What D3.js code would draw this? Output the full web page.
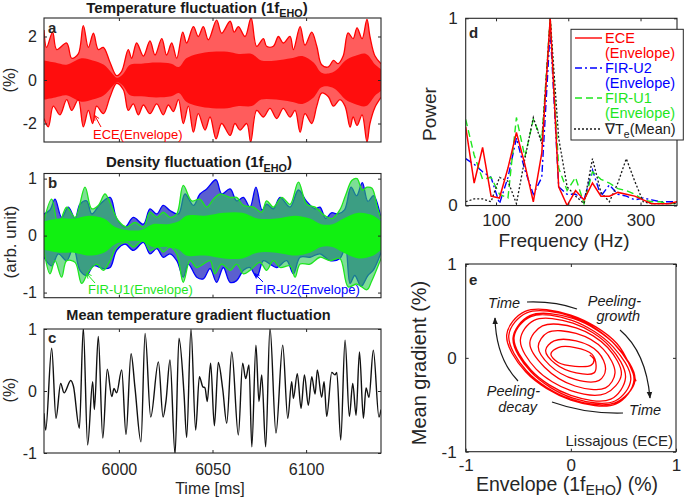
<!DOCTYPE html>
<html><head><meta charset="utf-8">
<script src="https://cdn.jsdelivr.net/npm/d3@7"></script>
<style>
body{margin:0;background:#fff}
svg{display:block}
text{font-family:"Liberation Sans",Arial,Helvetica,sans-serif;fill:#262626}
</style></head><body>
<svg id="c" width="685" height="499"></svg>
<script>
// ---------------- DATA ----------------
// Panel a: ECE envelope (upper / lower outline and dense core half-width), [time ms, %]
const aUpper = [[5960.0,2.3],[5961.4,1.5],[5964.6,2.2],[5966.8,1.4],[5972.1,1.7],[5974.8,1.0],[5978.3,1.2],[5981.0,2.5],[5983.7,1.5],[5986.4,2.15],[5989.0,1.4],[5991.7,1.5],[5995.3,0.8],[5998.8,0.2],[6001.5,0.4],[6005.0,1.4],[6006.8,1.0],[6009.5,1.7],[6013.1,1.1],[6016.6,1.8],[6019.3,1.15],[6022.9,1.9],[6025.5,1.15],[6028.2,1.7],[6030.9,1.0],[6034.1,2.2],[6036.2,1.7],[6039.8,2.45],[6042.4,2.0],[6045.1,2.45],[6047.8,1.85],[6052.2,2.75],[6054.9,2.15],[6059.4,2.7],[6061.6,2.2],[6063.8,2.45],[6067.4,2.0],[6070.6,2.85],[6073.6,1.55],[6077.2,1.9],[6078.9,1.55],[6082.5,1.55],[6085.2,2.0],[6087.8,1.7],[6091.4,2.0],[6093.2,1.4],[6096.8,2.45],[6099.4,1.6],[6103.0,2.2],[6105.7,1.55],[6108.3,0.7],[6111.9,0.6],[6114.6,0.9],[6117.1,0.75],[6119.8,1.1],[6122.4,2.17],[6125.1,1.9],[6127.2,2.4],[6129.9,1.9],[6132.5,2.78],[6134.1,2.0],[6136.8,1.1],[6140.0,0.75]];
const aLower = [[5960.0,-1.77],[5962.3,-2.15],[5965.0,-1.2],[5968.5,-1.6],[5972.1,-0.9],[5974.8,-1.4],[5978.3,-0.9],[5981.0,-2.15],[5983.7,-1.4],[5986.0,-2.0],[5988.1,-1.2],[5991.7,-1.55],[5995.3,-0.77],[5998.8,-0.15],[6002.4,-0.45],[6005.0,-1.4],[6007.7,-1.1],[6010.4,-1.6],[6013.1,-1.15],[6016.6,-1.55],[6020.2,-1.1],[6023.7,-1.6],[6026.4,-1.15],[6029.1,-1.45],[6031.8,-0.9],[6034.4,-2.0],[6037.1,-1.2],[6039.8,-2.4],[6042.4,-1.55],[6046.0,-2.3],[6048.7,-1.7],[6051.9,-2.7],[6054.9,-2.0],[6059.4,-2.55],[6062.0,-2.0],[6064.7,-2.3],[6068.3,-2.0],[6070.4,-2.85],[6073.6,-1.4],[6077.2,-1.7],[6080.7,-1.3],[6084.3,-1.77],[6087.8,-1.3],[6091.4,-1.7],[6094.1,-1.4],[6096.8,-2.4],[6099.4,-1.55],[6103.0,-2.0],[6105.7,-1.2],[6108.3,-0.6],[6111.9,-0.77],[6114.6,-1.2],[6118.1,-0.9],[6120.8,-1.2],[6123.5,-2.17],[6125.1,-1.7],[6127.2,-2.09],[6129.9,-1.6],[6132.5,-2.85],[6134.1,-2.0],[6136.8,-1.25],[6140.0,-0.8]];
const aCore = [[5960,0.9],[5966,0.8],[5972,0.7],[5980,1.0],[5986,0.9],[5992,0.7],[5996,0.35],[5999,0.1],[6002,0.25],[6006,0.7],[6012,0.75],[6020,0.8],[6028,0.75],[6032,0.6],[6036,1.0],[6042,1.2],[6050,1.3],[6058,1.3],[6064,1.2],[6071,1.2],[6076,0.9],[6084,0.9],[6092,1.0],[6098,1.1],[6104,0.8],[6108,0.35],[6112,0.3],[6116,0.45],[6121,0.9],[6126,1.1],[6132,1.2],[6137,0.7],[6140,0.5]];

// Panel b: FIR-U2 (blue) and FIR-U1 (green) envelopes, [time ms, arb. unit]
const bU2Upper = [[5960.0,0.38],[5963.2,0.45],[5965.9,0.64],[5969.4,0.32],[5973.0,0.5],[5976.6,0.3],[5979.2,0.55],[5982.8,0.61],[5985.5,0.38],[5989.9,0.55],[5995.3,0.67],[5998.8,0.3],[6003.3,0.15],[6007.7,0.32],[6013.1,0.2],[6016.6,0.47],[6020.2,0.38],[6023.7,0.53],[6027.3,0.44],[6031.8,0.38],[6035.3,0.73],[6039.8,0.53],[6043.3,0.73],[6046.9,0.82],[6051.9,0.98],[6054.9,0.73],[6059.4,0.82],[6062.9,0.61],[6066.5,0.67],[6070.0,0.5],[6073.2,0.85],[6076.5,0.45],[6078.9,0.55],[6082.5,0.47],[6086.1,0.67],[6091.4,0.5],[6095.9,0.8],[6100.3,0.6],[6104.8,0.47],[6107.4,0.5],[6110.5,0.3],[6113.5,0.4],[6117.0,0.38],[6120.5,0.45],[6124.0,0.85],[6127.0,0.7],[6130.0,0.93],[6133.0,0.6],[6136.0,0.7],[6140.0,0.3]];
const bU2Lower = [[5960.0,-0.38],[5964.1,-0.53],[5967.7,-0.32],[5972.1,-0.44],[5975.7,-0.2],[5979.2,-0.61],[5982.8,-0.7],[5986.4,-0.53],[5991.7,-0.58],[5995.3,-0.56],[5998.8,-0.26],[6003.3,-0.15],[6007.7,-0.26],[6013.1,-0.12],[6016.6,-0.32],[6020.2,-0.23],[6023.7,-0.38],[6027.3,-0.32],[6030.9,-0.44],[6034.4,-0.73],[6037.1,-0.5],[6041.6,-0.73],[6045.1,-0.76],[6048.7,-0.58],[6052.2,-0.82],[6055.8,-0.56],[6059.4,-0.82],[6062.9,-0.79],[6066.5,-0.61],[6070.0,-0.56],[6073.6,-0.73],[6077.2,-0.44],[6080.7,-0.5],[6084.3,-0.56],[6089.6,-0.44],[6093.2,-0.67],[6096.8,-0.38],[6102.1,-0.38],[6107.4,-0.32],[6112.8,-0.44],[6118.1,-0.4],[6121.0,-0.2],[6123.5,-0.84],[6126.0,-0.7],[6129.4,-0.89],[6133.0,-0.7],[6136.0,-0.6],[6140.0,-0.3]];
const bU1Upper = [[5960.0,0.26],[5964.1,0.64],[5967.7,0.18],[5972.1,0.5],[5976.6,0.32],[5981.9,0.85],[5985.5,0.47],[5989.0,0.53],[5992.6,0.73],[5996.2,0.5],[5999.7,0.26],[6004.2,0.15],[6008.6,0.23],[6013.1,0.15],[6016.6,0.41],[6020.2,0.32],[6023.7,0.41],[6027.3,0.32],[6030.9,0.38],[6034.4,0.88],[6038.9,0.61],[6043.3,0.64],[6046.9,0.5],[6050.5,0.64],[6054.0,0.73],[6059.4,0.67],[6062.9,0.67],[6066.5,0.53],[6071.8,0.5],[6076.2,0.41],[6078.9,0.61],[6082.5,0.5],[6087.0,0.67],[6091.4,0.55],[6095.9,0.94],[6100.3,0.55],[6104.8,0.5],[6110.0,0.35],[6114.0,0.3],[6118.0,0.45],[6121.0,0.7],[6124.5,0.97],[6127.2,1.0],[6130.0,0.8],[6132.5,0.85],[6135.2,0.83],[6138.0,0.5],[6140.0,0.3]];
const bU1Lower = [[5960.0,-0.26],[5963.2,-0.67],[5965.9,-0.44],[5969.4,-0.73],[5972.1,-0.44],[5976.6,-0.47],[5980.1,-0.84],[5983.7,-0.64],[5988.1,-0.5],[5991.7,-0.61],[5995.3,-0.44],[5998.8,-0.2],[6004.2,-0.12],[6007.7,-0.2],[6013.1,-0.09],[6016.6,-0.26],[6021.1,-0.2],[6023.7,-0.29],[6027.3,-0.2],[6030.9,-0.32],[6034.4,-0.82],[6038.0,-0.44],[6041.6,-0.56],[6045.1,-0.5],[6048.7,-0.44],[6051.3,-0.67],[6054.9,-0.5],[6059.4,-0.61],[6062.9,-0.5],[6066.5,-0.67],[6070.0,-0.61],[6075.4,-0.47],[6078.9,-0.61],[6082.5,-0.44],[6086.1,-0.56],[6091.4,-0.53],[6094.1,-0.73],[6096.8,-0.5],[6102.1,-0.5],[6107.4,-0.38],[6112.8,-0.44],[6118.0,-0.4],[6122.5,-0.9],[6127.0,-0.85],[6132.5,-0.95],[6135.0,-0.8],[6140.0,-0.4]];
const bU1Core = [[5960,0.25],[5968,0.3],[5976,0.3],[5984,0.35],[5992,0.3],[5998,0.15],[6004,0.1],[6012,0.1],[6018,0.2],[6026,0.2],[6032,0.25],[6036,0.35],[6046,0.35],[6056,0.4],[6066,0.4],[6074,0.3],[6084,0.3],[6094,0.35],[6102,0.3],[6108,0.2],[6114,0.2],[6120,0.3],[6128,0.4],[6136,0.35],[6140,0.25]];

// Panel c: mean temperature gradient fluctuation, [time ms, %]
const cGrad = [[5960.0,-0.36],[5960.9,-0.63],[5964.1,0.69],[5966.4,-0.44],[5968.9,0.12],[5970.7,-0.03],[5974.3,0.17],[5975.7,0.08],[5978.9,-0.6],[5981.0,1.02],[5983.3,-0.87],[5986.0,0.15],[5986.9,-0.3],[5989.0,0.88],[5991.4,-0.76],[5993.8,0.35],[5996.2,-0.09],[5997.4,0.04],[5998.8,-0.03],[6001.5,0.34],[6003.8,-0.7],[6006.5,0.6],[6008.6,0.05],[6011.8,-0.82],[6014.0,0.93],[6017.0,-0.42],[6021.1,0.47],[6023.6,-0.42],[6025.2,-0.15],[6027.3,0.5],[6030.0,-1.02],[6032.1,0.85],[6034.8,-0.05],[6036.2,-0.75],[6038.5,1.0],[6041.0,-0.63],[6043.0,0.23],[6044.8,0.07],[6046.0,0.05],[6047.2,-0.17],[6049.0,0.45],[6051.0,-0.56],[6053.1,0.46],[6055.5,0.02],[6057.6,-0.52],[6060.3,0.63],[6063.8,-0.71],[6066.1,0.45],[6067.7,0.2],[6069.5,0.42],[6071.0,-0.9],[6073.2,0.74],[6074.8,-0.17],[6076.3,0.26],[6078.4,-0.9],[6080.7,1.02],[6083.9,-0.68],[6087.5,0.74],[6090.2,-0.44],[6092.3,0.15],[6093.2,-0.12],[6095.3,0.28],[6097.3,-0.28],[6099.1,0.26],[6101.2,-0.23],[6103.0,0.23],[6104.8,-0.05],[6106.0,0.34],[6108.3,-0.1],[6109.6,0.15],[6111.0,-0.41],[6113.7,0.3],[6115.4,0.26],[6116.4,0.3],[6118.5,-0.79],[6120.8,0.82],[6123.1,-0.41],[6124.9,0.12],[6126.7,-0.39],[6128.5,0.63],[6130.6,-0.44],[6132.0,0.05],[6133.6,-0.1],[6135.9,0.66],[6138.9,-0.42],[6140.0,-0.3]];

// Panel d: normalised power spectra
const freqs  = [58.0,69.7,81.4,93.1,104.8,116.5,128.2,139.9,151.6,163.3,175.0,186.7,198.4,210.1,221.8,233.5,245.2,256.9,268.6,280.3,292.0,303.7,315.4,327.1,338.8,350.5];
const pECE   = [0.42,0.12,0.31,0.05,0.04,0.20,0.39,0.22,0.02,0.28,1.00,0.10,0.00,0.08,0.03,0.12,0.05,0.05,0.07,0.06,0.05,0.03,0.01,0.01,0.01,0.02];
const pFIRU2 = [0.25,0.22,0.18,0.15,0.01,0.15,0.36,0.19,0.06,0.15,0.94,0.10,0.06,0.06,0.03,0.19,0.05,0.11,0.06,0.05,0.03,0.04,0.03,0.02,0.02,0.02];
const pFIRU1 = [0.46,0.27,0.14,0.15,0.06,0.04,0.47,0.26,0.46,0.35,1.00,0.20,0.08,0.15,0.01,0.18,0.14,0.12,0.09,0.08,0.06,0.03,0.02,0.02,0.01,0.01];
const pGradT = [0.02,0.035,0.035,0.02,0.15,0.13,0.01,0.25,0.47,0.33,1.00,0.36,0.10,0.05,0.01,0.25,0.07,0.02,0.12,0.25,0.13,0.02,0.01,0.01,0.01,0.01];
const legendNames = [["ECE","(Envelope)"],["FIR-U2","(Envelope)"],["FIR-U1","(Envelope)"]];

// Panel e: Lissajous (ECE) trajectory, [envelope %, mean gradient %]
const liss = [[0.62,-0.25],[0.44,0.15],[0,0.455],[-0.435,0.495],[-0.61,0.245],[-0.43,-0.15],[0,-0.45],[0.43,-0.49],
[0.60,-0.24],[0.42,0.14],[0.01,0.44],[-0.42,0.48],[-0.59,0.24],[-0.42,-0.14],[0,-0.44],[0.42,-0.48],
[0.61,-0.24],[0.43,0.13],[0.02,0.42],[-0.39,0.45],[-0.55,0.21],[-0.38,-0.15],[0.02,-0.43],[0.42,-0.46],
[0.57,-0.23],[0.40,0.12],[0.01,0.40],[-0.38,0.44],[-0.54,0.22],[-0.38,-0.13],[0,-0.40],[0.38,-0.44],
[0.52,-0.21],[0.37,0.12],[0.02,0.37],[-0.35,0.40],[-0.48,0.19],[-0.33,-0.12],[0,-0.35],[0.33,-0.38],
[0.48,-0.18],[0.35,0.11],[0.05,0.32],[-0.27,0.34],[-0.39,0.16],[-0.25,-0.10],[0.04,-0.30],[0.33,-0.32],
[0.42,-0.16],[0.31,0.09],[0.05,0.26],[-0.22,0.27],[-0.31,0.12],[-0.20,-0.08],[0.04,-0.23],[0.27,-0.24],
[0.33,-0.12],[0.26,0.06],[0.05,0.18],[-0.16,0.18],[-0.24,0.08],[-0.15,-0.06],[0.05,-0.16],[0.22,-0.16],
[0.24,-0.08],[0.2,0.04],[0.04,0.11],[-0.12,0.11],[-0.19,0.04],[-0.12,-0.05],[0.04,-0.09],[0.19,-0.08],
[0.22,-0.02],[0.18,0.03]];

const timeTicks = [6000,6050,6100];
const aTicks = [-2,0,2], bTicks=[-1,0,1], cTicks=[-1,0,1];
const dXTicks=[100,200,300], dYTicks=[0,1], eTicks=[-1,0,1];

// ---------------- DRAWING ----------------
const svg = d3.select("#c");
const FR = "#262626";
const fmt = d => String(d);
const defs = svg.append("defs");

function arrowMarker(id, color, filled){
  const m = defs.append("marker").attr("id",id).attr("viewBox","0 0 10 10")
    .attr("refX",filled?9:8).attr("refY",5).attr("markerWidth",filled?7:6).attr("markerHeight",filled?7:6)
    .attr("orient","auto").attr("markerUnits","userSpaceOnUse");
  if(filled) m.append("path").attr("d","M0,1 L10,5 L0,9 Z").attr("fill",color);
  else m.append("path").attr("d","M1,1 L9,5 L1,9").attr("fill","none").attr("stroke",color).attr("stroke-width",1.4);
}
arrowMarker("ahK","#1a1a1a",true);
arrowMarker("ahR","#ff0000",false);
arrowMarker("ahG","#1ee61e",false);
arrowMarker("ahB","#0000ff",false);

function panel(id, x0,x1,y0,y1){
  defs.append("clipPath").attr("id","clip"+id).append("rect")
    .attr("x",x0).attr("y",y0).attr("width",x1-x0).attr("height",y1-y0);
  const g = svg.append("g");
  return {g, plot: g.append("g").attr("clip-path",`url(#clip${id})`)};
}
function styleAxis(sel, fs){
  sel.select(".domain").remove();
  sel.selectAll(".tick line").attr("stroke",FR).attr("stroke-width",1);
  sel.selectAll(".tick text").attr("fill",FR).style("font-size",fs+"px")
     .style("font-family",'"Liberation Sans",Arial,Helvetica,sans-serif');
}
function axes(g, xs, ys, xt, yt, o){
  const [x0,x1] = xs.range(), [y1,y0] = ys.range();
  const L = g.append("g").attr("transform",`translate(${x0},0)`)
    .call(d3.axisLeft(ys).tickValues(yt).tickSizeInner(-3).tickSizeOuter(0).tickPadding(o.yp).tickFormat(fmt));
  styleAxis(L,o.fs);
  const R = g.append("g").attr("transform",`translate(${x1},0)`)
    .call(d3.axisRight(ys).tickValues(yt).tickSizeInner(-3).tickSizeOuter(0).tickFormat(""));
  styleAxis(R,o.fs);
  const B = g.append("g").attr("transform",`translate(0,${y1})`)
    .call(d3.axisBottom(xs).tickValues(xt).tickSizeInner(-3).tickSizeOuter(0).tickPadding(o.xp).tickFormat(o.xlab?fmt:""));
  styleAxis(B,o.fs);
  const T = g.append("g").attr("transform",`translate(0,${y0})`)
    .call(d3.axisTop(xs).tickValues(xt).tickSizeInner(-3).tickSizeOuter(0).tickFormat(""));
  styleAxis(T,o.fs);
  g.append("rect").attr("x",x0).attr("y",y0).attr("width",x1-x0).attr("height",y1-y0)
    .attr("fill","none").attr("stroke",FR).attr("stroke-width",1.1);
}
function richText(g, x, y, parts, fs, attrs, subShift){
  const sh = subShift===undefined ? 0.3 : subShift;
  const t = g.append("text").attr("x",x).attr("y",y).style("font-size",fs+"px");
  for(const k in (attrs||{})) t.attr(k, attrs[k]);
  let shift = 0;
  parts.forEach(p=>{
    const sub = p[1];
    const dy = sub ? (fs*sh) - shift : -shift;
    shift = sub ? fs*sh : 0;
    t.append("tspan").text(p[0]).attr("dy",dy).style("font-size",(sub?fs*0.72:fs)+"px");
  });
  return t;
}
function rotLabel(g, x, y, txt, fs){
  g.append("text").attr("transform",`translate(${x},${y}) rotate(-90)`)
    .attr("text-anchor","middle").attr("dominant-baseline","central")
    .style("font-size",fs+"px").text(txt);
}
function envPath(xs, ys, upper, lower){
  const ln = d3.line().x(d=>xs(d[0])).y(d=>ys(d[1])).curve(d3.curveCatmullRom.alpha(0.5));
  const up = ln(upper);
  const lo = ln(lower.slice().reverse());
  return up + "L" + lo.slice(1) + "Z";
}

// ---- Panel a ----
const xT = d3.scaleLinear().domain([5960,6140]).range([44,381]);
{
  const ys = d3.scaleLinear().domain([-2.85,2.85]).range([142,18]);
  const {g, plot} = panel("a",44,381,18,142);
  plot.append("path").attr("d",envPath(xT,ys,aUpper,aLower)).attr("fill","#ff5c5c");
  plot.append("path").attr("d",envPath(xT,ys,aCore,aCore.map(d=>[d[0],-d[1]]))).attr("fill","#ff0d0d");
  const ln = d3.line().x(d=>xT(d[0])).y(d=>ys(d[1])).curve(d3.curveCatmullRom.alpha(0.5));
  plot.append("path").attr("d",ln(aUpper)).attr("fill","none").attr("stroke","#ff0000").attr("stroke-width",1.3);
  plot.append("path").attr("d",ln(aLower)).attr("fill","none").attr("stroke","#ff0000").attr("stroke-width",1.3);
  axes(g,xT,ys,timeTicks,aTicks,{fs:16,yp:7,xp:10,xlab:false});
  richText(g,197,12.5,[["Temperature fluctuation (1f",0],["EHO",1],[")",0]],15,{"text-anchor":"middle","font-weight":"bold"}).style("fill","#1a1a1a");
  g.append("text").attr("x",48).attr("y",33).style("font-size","15px").attr("font-weight","bold").text("a");
  rotLabel(g,9,80,"(%)",16);
  g.append("text").attr("x",93).attr("y",139).style("font-size","13px").style("fill","#ff0000").text("ECE(Envelope)");
  g.append("line").attr("x1",101).attr("y1",127).attr("x2",95).attr("y2",116)
    .attr("stroke","#ff0000").attr("stroke-width",1).attr("marker-end","url(#ahR)");
}

// ---- Panel b ----
{
  const ys = d3.scaleLinear().domain([-1.09,1.09]).range([297.7,173.5]);
  const {g, plot} = panel("b",44,381,173.5,297.7);
  const ln = d3.line().x(d=>xT(d[0])).y(d=>ys(d[1])).curve(d3.curveCatmullRom.alpha(0.5));
  plot.append("path").attr("d",envPath(xT,ys,bU2Upper,bU2Lower)).attr("fill","#5b5fcf");
  plot.append("path").attr("d",ln(bU2Upper)).attr("fill","none").attr("stroke","#0000ff").attr("stroke-width",1.3);
  plot.append("path").attr("d",ln(bU2Lower)).attr("fill","none").attr("stroke","#0000ff").attr("stroke-width",1.3);
  plot.append("path").attr("d",envPath(xT,ys,bU1Upper,bU1Lower)).attr("fill","rgba(40,200,80,0.6)");
  plot.append("path").attr("d",ln(bU1Upper)).attr("fill","none").attr("stroke","#1ee61e").attr("stroke-width",1.3);
  plot.append("path").attr("d",ln(bU1Lower)).attr("fill","none").attr("stroke","#1ee61e").attr("stroke-width",1.3);
  plot.append("path").attr("d",envPath(xT,ys,bU1Core,bU1Core.map(d=>[d[0],-d[1]]))).attr("fill","#11f011");
  axes(g,xT,ys,timeTicks,bTicks,{fs:16,yp:7,xp:10,xlab:false});
  richText(g,199,167,[["Density fluctuation (1f",0],["EHO",1],[")",0]],15,{"text-anchor":"middle","font-weight":"bold"}).style("fill","#1a1a1a");
  g.append("text").attr("x",48).attr("y",188).style("font-size","15px").attr("font-weight","bold").text("b");
  rotLabel(g,10,242,"(arb. unit)",17);
  g.append("text").attr("x",88).attr("y",294).style("font-size","13px").style("fill","#1ee61e").text("FIR-U1(Envelope)");
  g.append("line").attr("x1",95).attr("y1",283).attr("x2",87).attr("y2",274)
    .attr("stroke","#1ee61e").attr("stroke-width",1).attr("marker-end","url(#ahG)");
  g.append("text").attr("x",255).attr("y",294).style("font-size","13px").style("fill","#0000ff").text("FIR-U2(Envelope)");
  g.append("line").attr("x1",263).attr("y1",282).attr("x2",255).attr("y2",274)
    .attr("stroke","#0000ff").attr("stroke-width",1).attr("marker-end","url(#ahB)");
}

// ---- Panel c ----
{
  const ys = d3.scaleLinear().domain([-1,1]).range([453,329]);
  const {g, plot} = panel("c",44,381,329,453);
  const ln = d3.line().x(d=>xT(d[0])).y(d=>ys(d[1])).curve(d3.curveMonotoneX);
  plot.append("path").attr("d",ln(cGrad)).attr("fill","none").attr("stroke","#111").attr("stroke-width",1.4);
  axes(g,xT,ys,timeTicks,cTicks,{fs:16,yp:7,xp:11,xlab:true});
  g.append("text").attr("x",198.5).attr("y",320).attr("text-anchor","middle").style("font-size","14.5px")
    .attr("font-weight","bold").style("fill","#1a1a1a").text("Mean temperature gradient fluctuation");
  g.append("text").attr("x",48).attr("y",343).style("font-size","15px").attr("font-weight","bold").text("c");
  rotLabel(g,9,390,"(%)",16);
  g.append("text").attr("x",210).attr("y",494).attr("text-anchor","middle").style("font-size","16px").text("Time [ms]");
}

// ---- Panel d ----
{
  const xs = d3.scaleLinear().domain([58,350.5]).range([465.7,677]);
  const ys = d3.scaleLinear().domain([0,1]).range([205.5,18.3]);
  const {g, plot} = panel("d",465.7,677,18.3,205.5);
  const series = [
    {v:pFIRU2,c:"#0000ff",dash:"7,3,2,3",w:1.4},
    {v:pFIRU1,c:"#1ee61e",dash:"7,4",w:1.4},
    {v:pGradT,c:"#1a1a1a",dash:"2,2",w:1.3},
    {v:pECE,c:"#ff0000",dash:null,w:1.5}
  ];
  series.forEach(s=>{
    const ln = d3.line().x((d,i)=>xs(freqs[i])).y(d=>ys(d));
    plot.append("path").attr("d",ln(s.v)).attr("fill","none").attr("stroke",s.c)
      .attr("stroke-width",s.w).attr("stroke-dasharray",s.dash);
  });
  axes(g,xs,ys,dXTicks,dYTicks,{fs:17,yp:8,xp:8,xlab:true});
  g.append("text").attr("x",469).attr("y",38).style("font-size","15px").attr("font-weight","bold").text("d");
  rotLabel(g,429,114,"Power",19);
  g.append("text").attr("x",564).attr("y",247).attr("text-anchor","middle").style("font-size","19px").text("Frequency (Hz)");
  // legend
  const lg = g.append("g");
  lg.append("rect").attr("x",571).attr("y",29.3).attr("width",112.3).attr("height",110.7)
    .attr("fill","#fff").attr("stroke",FR).attr("stroke-width",1);
  const legCols = ["#ff0000","#0000ff","#1ee61e"], legDash=[null,"7,3,2,3","7,4"];
  legendNames.forEach((nm,i)=>{
    const yy = 38 + i*30;
    lg.append("line").attr("x1",575).attr("x2",602).attr("y1",yy).attr("y2",yy)
      .attr("stroke",legCols[i]).attr("stroke-width",1.4).attr("stroke-dasharray",legDash[i]);
    lg.append("text").attr("x",605).attr("y",yy+5).style("font-size","14.5px").style("fill",legCols[i]).text(nm[0]);
    lg.append("text").attr("x",605).attr("y",yy+19.5).style("font-size","14.5px").style("fill",legCols[i]).text(nm[1]);
  });
  lg.append("line").attr("x1",574).attr("x2",601).attr("y1",129).attr("y2",129)
    .attr("stroke","#1a1a1a").attr("stroke-width",1.3).attr("stroke-dasharray","2,2");
  richText(lg,605,134,[["\u2207T",0],["e",1],["(Mean)",0]],14.5,{}).style("fill","#1a1a1a");
}

// ---- Panel e ----
{
  const xs = d3.scaleLinear().domain([-1,1]).range([465.7,676]);
  const ys = d3.scaleLinear().domain([-1,1]).range([451.7,264]);
  const {g, plot} = panel("e",465.7,676,264,451.7);
  const ln = d3.line().x(d=>xs(d[0])).y(d=>ys(d[1])).curve(d3.curveCatmullRom.alpha(0.5));
  plot.append("path").attr("d",ln(liss)).attr("fill","none").attr("stroke","#ff0000").attr("stroke-width",1.3);
  axes(g,xs,ys,eTicks,eTicks,{fs:17,yp:9,xp:7,xlab:true});
  g.append("text").attr("x",469).attr("y",285).style("font-size","15px").attr("font-weight","bold").text("e");
  rotLabel(g,419,363,"Mean gradient (%)",20);
  richText(g,567,491,[["Envelope (1f",0],["EHO",1],[") (%)",0]],19.5,{"text-anchor":"middle"},0.2);
  const it = (x,y,t,anchor)=>g.append("text").attr("x",x).attr("y",y).attr("text-anchor",anchor)
      .style("font-size","14.5px").style("font-style","italic").style("fill","#1a1a1a").text(t);
  it(504,308,"Time","middle");
  it(641,306,"Peeling-","end");
  it(640,321,"growth","end");
  it(540,396,"Peeling-","end");
  it(537,412,"decay","end");
  it(645,415,"Time","middle");
  const st = {"fill":"none","stroke":"#1a1a1a","stroke-width":1.2};
  const p = (d,marker)=>{const e=g.append("path").attr("d",d); for(const k in st) e.attr(k,st[k]); if(marker) e.attr("marker-end",marker);};
  p("M527,302 Q555,301 577,309");
  p("M552,402 Q585,414 623,413");
  p("M620,330 Q646,352 650,398","url(#ahK)");
  p("M518,381 Q496,358 495,318","url(#ahK)");
  g.append("text").attr("x",673).attr("y",446).attr("text-anchor","end").style("font-size","15px").text("Lissajous (ECE)");
}
</script></body></html>
